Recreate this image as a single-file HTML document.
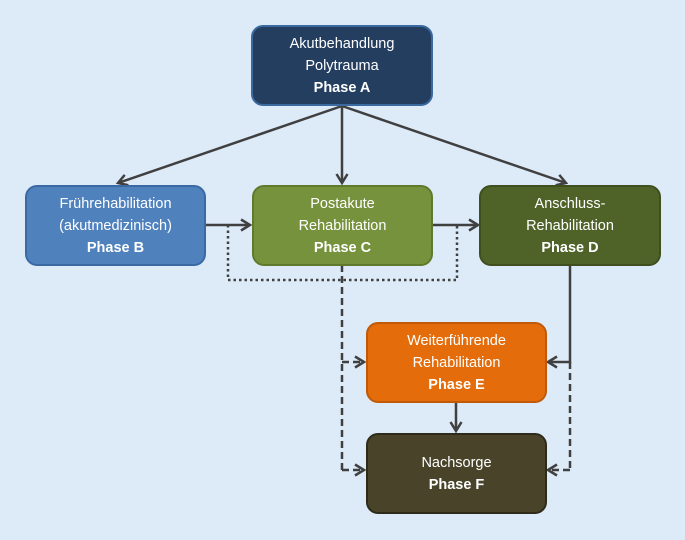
<!DOCTYPE html>
<html><head><meta charset="utf-8"><style>
body{margin:0;background:#ddeaf8;}
.b{position:absolute;box-sizing:border-box;border-radius:12px;color:#fff;font-family:"Liberation Sans",sans-serif;font-size:14.5px;line-height:22px;text-align:center;display:flex;flex-direction:column;justify-content:center;border:2px solid}
.b b{font-weight:bold}
</style></head><body>
<div style="position:relative;width:685px;height:540px;overflow:hidden">
<svg width="685" height="540" style="position:absolute;left:0;top:0">
<defs><marker id="a" markerWidth="14" markerHeight="14" refX="10" refY="7" orient="auto" markerUnits="userSpaceOnUse"><path d="M1,1.5 L10,7 L1,12.5" fill="none" stroke="#404040" stroke-width="2.5"/></marker></defs>
<g stroke="#404040" stroke-width="2.5" fill="none">
<line x1="342" y1="106" x2="118" y2="183" marker-end="url(#a)"/>
<line x1="342" y1="106" x2="342" y2="183" marker-end="url(#a)"/>
<line x1="342" y1="106" x2="566" y2="183" marker-end="url(#a)"/>
<line x1="205" y1="225" x2="250" y2="225" marker-end="url(#a)"/>
<line x1="432" y1="225" x2="478" y2="225" marker-end="url(#a)"/>
<polyline points="228,225 228,280 457,280 457,225" stroke-dasharray="2.5,3"/>
<polyline points="342,265 342,470" stroke-dasharray="7,4"/>
<line x1="342" y1="362" x2="364" y2="362" stroke-dasharray="7,4" marker-end="url(#a)"/>
<line x1="342" y1="470" x2="364" y2="470" stroke-dasharray="7,4" marker-end="url(#a)"/>
<polyline points="570,265 570,362 548,362" marker-end="url(#a)"/>
<polyline points="570,362 570,470" stroke-dasharray="7,4"/>
<line x1="570" y1="470" x2="548" y2="470" stroke-dasharray="7,4" marker-end="url(#a)"/>
<line x1="456" y1="402" x2="456" y2="431" marker-end="url(#a)"/>
</g></svg>
<div class="b" style="left:251px;top:25px;width:182px;height:81px;background:#243e60;border-color:#3a6aa0">Akutbehandlung<br>Polytrauma<br><b>Phase A</b></div>
<div class="b" style="left:25px;top:185px;width:181px;height:81px;background:#4f81bd;border-color:#3b6aa3">Frührehabilitation<br>(akutmedizinisch)<br><b>Phase B</b></div>
<div class="b" style="left:252px;top:185px;width:181px;height:81px;background:#76923c;border-color:#5f7a2c">Postakute<br>Rehabilitation<br><b>Phase C</b></div>
<div class="b" style="left:479px;top:185px;width:182px;height:81px;background:#4f6228;border-color:#3f4f20">Anschluss-<br>Rehabilitation<br><b>Phase D</b></div>
<div class="b" style="left:366px;top:322px;width:181px;height:81px;background:#e46c0a;border-color:#c05a08">Weiterführende<br>Rehabilitation<br><b>Phase E</b></div>
<div class="b" style="left:366px;top:433px;width:181px;height:81px;background:#494429;border-color:#2e2b1a">Nachsorge<br><b>Phase F</b></div>
</div>
</body></html>
